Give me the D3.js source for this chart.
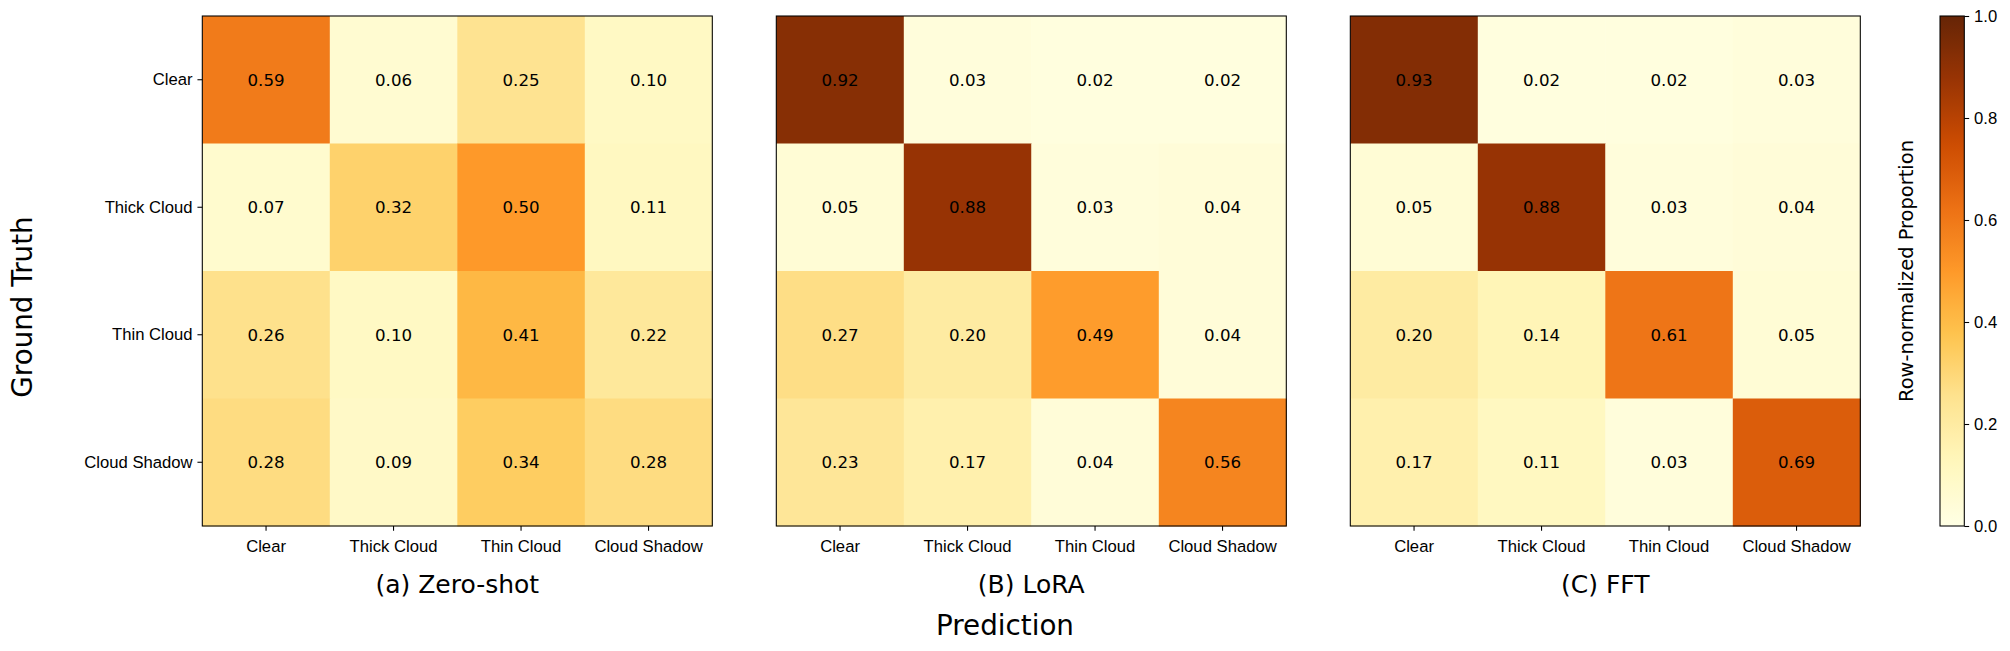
<!DOCTYPE html>
<html>
<head>
<meta charset="utf-8">
<script src="https://cdn.jsdelivr.net/npm/d3@7"></script>
<style>
  body { margin: 0; background: #fff; }
  svg { font-family: "DejaVu Sans", sans-serif; }
</style>
</head>
<body>
<svg></svg>
<script>
// class names used on both axes
let classes = ['Clear', 'Thick Cloud', 'Thin Cloud', 'Cloud Shadow']

// panel titles
let titles = ['(a) Zero-shot', '(B) LoRA', '(C) FFT']

// row-normalized confusion matrices, rows = ground truth, cols = prediction
let zeroShot = [
    [0.59, 0.06, 0.25, 0.10],
    [0.07, 0.32, 0.50, 0.11],
    [0.26, 0.10, 0.41, 0.22],
    [0.28, 0.09, 0.34, 0.28]
]
let lora = [
    [0.92, 0.03, 0.02, 0.02],
    [0.05, 0.88, 0.03, 0.04],
    [0.27, 0.20, 0.49, 0.04],
    [0.23, 0.17, 0.04, 0.56]
]
let fft = [
    [0.93, 0.02, 0.02, 0.03],
    [0.05, 0.88, 0.03, 0.04],
    [0.20, 0.14, 0.61, 0.05],
    [0.17, 0.11, 0.03, 0.69]
]
let matrices = [zeroShot, lora, fft]

// colorbar ticks
let colorTicks = [0.0, 0.2, 0.4, 0.6, 0.8, 1.0]

// YlOrBr anchor colours (matplotlib)
let ylOrBr = ['#ffffe5', '#fff7bc', '#fee391', '#fec44f', '#fe9929',
              '#ec7014', '#cc4c02', '#993404', '#662506']

let width = 2010
let height = 651
let panelSize = 510
let panelTop = 16
let panelLefts = [202.3, 776.3, 1350.3]
let tickLen = 4.86
let tickPad = 4.86
let lineW = 1.07

let svg = d3.select('svg')
    .attr('width', width)
    .attr('height', height)

let colorScale = d3.scaleLinear()
    .domain(ylOrBr.map((c, i) => i / (ylOrBr.length - 1)))
    .range(ylOrBr)
    .interpolate(d3.interpolateRgb)
    .clamp(true)

let xScale = d3.scaleBand().domain(classes).range([0, panelSize])
let yScale = d3.scaleBand().domain(classes).range([0, panelSize])

let styleAxis = (g) => {
    g.select('.domain').remove()
    g.selectAll('.tick line').attr('stroke', '#000').attr('stroke-width', lineW)
    g.selectAll('.tick text')
        .attr('fill', '#000')
        .style('font-size', '16.67px')
}

matrices.forEach((matrix, p) => {
    let panel = svg.append('g')
        .attr('transform', 'translate(' + panelLefts[p] + ',' + panelTop + ')')

    let cells = []
    matrix.forEach((row, r) => {
        row.forEach((v, c) => {
            cells.push({ row: classes[r], col: classes[c], value: v })
        })
    })

    panel.selectAll('rect.cell')
        .data(cells)
        .enter()
        .append('rect')
        .attr('class', 'cell')
        .attr('x', d => xScale(d.col))
        .attr('y', d => yScale(d.row))
        .attr('width', xScale.bandwidth() + 0.5)
        .attr('height', yScale.bandwidth() + 0.5)
        .attr('fill', d => colorScale(d.value))

    panel.selectAll('text.val')
        .data(cells)
        .enter()
        .append('text')
        .attr('class', 'val')
        .attr('x', d => xScale(d.col) + xScale.bandwidth() / 2)
        .attr('y', d => yScale(d.row) + yScale.bandwidth() / 2)
        .attr('dy', '0.36em')
        .attr('text-anchor', 'middle')
        .style('font-size', '16.67px')
        .attr('fill', '#000')
        .text(d => d.value.toFixed(2))

    // frame
    panel.append('rect')
        .attr('width', panelSize)
        .attr('height', panelSize)
        .attr('fill', 'none')
        .attr('stroke', '#000')
        .attr('stroke-width', lineW)

    let xAxis = d3.axisBottom(xScale).tickSize(tickLen).tickPadding(tickPad)
    panel.append('g')
        .attr('transform', 'translate(0,' + panelSize + ')')
        .call(xAxis)
        .call(styleAxis)
        .selectAll('.tick text').attr('dy', '0.96em')

    if (p === 0) {
        let yAxis = d3.axisLeft(yScale).tickSize(tickLen).tickPadding(tickPad)
        panel.append('g')
            .call(yAxis)
            .call(styleAxis)
            .selectAll('.tick text').attr('dy', '0.32em')
    }

    panel.append('text')
        .attr('x', panelSize / 2)
        .attr('y', 593 - panelTop)
        .attr('text-anchor', 'middle')
        .style('font-size', '25px')
        .text(titles[p])
})

// shared labels
svg.append('text')
    .attr('x', 1005)
    .attr('y', 635)
    .attr('text-anchor', 'middle')
    .style('font-size', '27.78px')
    .text('Prediction')

svg.append('text')
    .attr('transform', 'translate(32,307) rotate(-90)')
    .attr('text-anchor', 'middle')
    .style('font-size', '27.78px')
    .text('Ground Truth')

// colorbar
let cbX = 1940
let cbW = 24.3
let cbScale = d3.scaleLinear().domain([0, 1]).range([panelTop + panelSize, panelTop])

let grad = svg.append('defs').append('linearGradient')
    .attr('id', 'cbgrad')
    .attr('x1', 0).attr('y1', 1).attr('x2', 0).attr('y2', 0)
grad.selectAll('stop')
    .data(d3.range(0, 1.0001, 0.02))
    .enter()
    .append('stop')
    .attr('offset', d => d)
    .attr('stop-color', d => colorScale(d))

svg.append('rect')
    .attr('x', cbX)
    .attr('y', cbScale(1))
    .attr('width', cbW)
    .attr('height', cbScale(0) - cbScale(1))
    .attr('fill', 'url(#cbgrad)')
    .attr('stroke', '#000')
    .attr('stroke-width', lineW)

svg.append('g')
    .attr('transform', 'translate(' + (cbX + cbW) + ',0)')
    .call(d3.axisRight(cbScale).tickValues(colorTicks).tickFormat(d3.format('.1f'))
        .tickSize(tickLen).tickPadding(tickPad))
    .call(styleAxis)
    .selectAll('.tick text').attr('dy', '0.32em')

svg.append('text')
    .attr('transform', 'translate(1912.7,' + cbScale(0.5) + ') rotate(-90)')
    .attr('text-anchor', 'middle')
    .style('font-size', '19.44px')
    .text('Row-normalized Proportion')
</script>
</body>
</html>
